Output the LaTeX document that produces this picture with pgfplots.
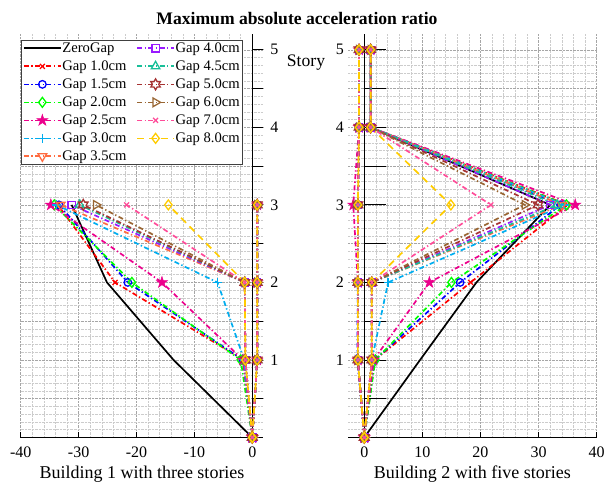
\documentclass[border=0pt]{standalone}
\usepackage{fontspec}
\setmainfont{Liberation Serif}
\usepackage{pgfplots}
\pgfplotsset{compat=1.18}
\usetikzlibrary{plotmarks}

\pgfdeclareplotmark{pentagram}{%
  \pgfpathmoveto{\pgfpointpolar{90}{\pgfplotmarksize}}%
  \pgfpathlineto{\pgfpointpolar{126}{0.382\pgfplotmarksize}}%
  \pgfpathlineto{\pgfpointpolar{162}{\pgfplotmarksize}}%
  \pgfpathlineto{\pgfpointpolar{198}{0.382\pgfplotmarksize}}%
  \pgfpathlineto{\pgfpointpolar{234}{\pgfplotmarksize}}%
  \pgfpathlineto{\pgfpointpolar{270}{0.382\pgfplotmarksize}}%
  \pgfpathlineto{\pgfpointpolar{306}{\pgfplotmarksize}}%
  \pgfpathlineto{\pgfpointpolar{342}{0.382\pgfplotmarksize}}%
  \pgfpathlineto{\pgfpointpolar{18}{\pgfplotmarksize}}%
  \pgfpathlineto{\pgfpointpolar{54}{0.382\pgfplotmarksize}}%
  \pgfpathclose
  \pgfusepathqfillstroke}
\pgfdeclareplotmark{hexagram}{%
  \pgfpathmoveto{\pgfpointpolar{90}{\pgfplotmarksize}}%
  \pgfpathlineto{\pgfpointpolar{120}{0.577\pgfplotmarksize}}%
  \pgfpathlineto{\pgfpointpolar{150}{\pgfplotmarksize}}%
  \pgfpathlineto{\pgfpointpolar{180}{0.577\pgfplotmarksize}}%
  \pgfpathlineto{\pgfpointpolar{210}{\pgfplotmarksize}}%
  \pgfpathlineto{\pgfpointpolar{240}{0.577\pgfplotmarksize}}%
  \pgfpathlineto{\pgfpointpolar{270}{\pgfplotmarksize}}%
  \pgfpathlineto{\pgfpointpolar{300}{0.577\pgfplotmarksize}}%
  \pgfpathlineto{\pgfpointpolar{330}{\pgfplotmarksize}}%
  \pgfpathlineto{\pgfpointpolar{0}{0.577\pgfplotmarksize}}%
  \pgfpathlineto{\pgfpointpolar{30}{\pgfplotmarksize}}%
  \pgfpathlineto{\pgfpointpolar{60}{0.577\pgfplotmarksize}}%
  \pgfpathclose
  \pgfusepathqstroke}

\definecolor{c35}{rgb}{1,0.42,0.25}
\definecolor{c40}{rgb}{0.6,0.1,1}
\definecolor{c45}{rgb}{0.1,0.75,0.6}
\definecolor{c50}{rgb}{0.65,0.2,0.2}
\definecolor{c60}{rgb}{0.6,0.4,0.2}
\definecolor{c70}{rgb}{1,0.3,0.6}
\definecolor{c80}{rgb}{1,0.8,0}

\pgfplotsset{
  dd/.style={line width=1.7pt, dash pattern=on 5pt off 2.5pt on 1.3pt off 2.5pt},
  mo/.style={mark options={solid, line width=1.3pt, #1}},
  s00/.style={black, solid, line width=1.7pt, no marks},
  s10/.style={red, dd, mark=x, mark size=3.5pt, mo={}},
  s15/.style={blue, dd, mark=o, mark size=3.8pt, mo={}},
  s20/.style={green, dd, mark=diamond, mark size=5pt, mo={}},
  s25/.style={magenta, dd, mark=pentagram, mark size=6pt, mo={fill=magenta, line width=0.5pt}},
  s30/.style={cyan, dd, mark=+, mark size=4.5pt, mo={}},
  s35/.style={c35, dd, mark=triangle, mark size=5pt, mo={rotate=180}},
  s40/.style={c40, dd, mark=square, mark size=3.6pt, mo={}},
  s45/.style={c45, dd, mark=triangle, mark size=5pt, mo={}},
  s50/.style={c50, dd, mark=hexagram, mark size=5.5pt, mo={}},
  s60/.style={c60, dd, mark=triangle, mark size=5pt, mo={rotate=-90}},
  s70/.style={c70, dd, mark=x, mark size=3.5pt, mo={}},
  s80/.style={c80, line width=1.7pt, dash pattern=on 7pt off 5pt, mark=diamond, mark size=5pt, mo={}},
  common/.style={
    scale only axis,
    height=403.2bp,
    ymin=0, ymax=5.2,
    unbounded coords=jump,
    axis x line=bottom,
    axis line style={-, black, line width=0.8pt},
    tick align=inside,
    major tick length=5bp,
    minor tick length=0pt,
    tick style={black, line width=0.8pt},
    ytick={0,0.5,1,1.5,2,2.5,3,3.5,4,4.5,5},
    yticklabels={,,1,,2,,3,,4,,5},
    minor x tick num=4,
    minor y tick num=4,
    grid=both,
    major grid style={densely dotted, gray!70, line width=0.5pt},
    minor grid style={densely dotted, gray!40, line width=0.5pt},
    ticklabel style={font=\fontsize{16bp}{18bp}\selectfont},
    /pgf/number format/assume math mode=true,
    xticklabel style={yshift=-6bp},
    xlabel style={font=\fontsize{18bp}{20bp}\selectfont, yshift=-1bp},
    legend image code/.code={\draw[mark repeat=2,mark phase=2] plot coordinates {(0cm,0cm) (0.65cm,0cm) (1.3cm,0cm)};},
  },
}

\begin{document}
\begin{tikzpicture}
\useasboundingbox (0,0) rectangle (607bp,486bp);

% ---------------- Building 1 ----------------
\begin{axis}[common,
  at={(20.7bp,48.5bp)}, anchor=south west,
  width=242.6bp,
  xmin=-40, xmax=1.9,
  xtick={-40,-30,-20,-10,0},
  axis y line=right,
  y axis line style={draw=none},
  ytick style={draw=none},
  yticklabel style={xshift=1bp},
  xlabel={Building 1 with three stories},
  legend columns=2,
  legend cell align=left,
  legend style={at={(0,0.987)}, anchor=north west,
    font=\fontsize{14.6bp}{16bp}\selectfont,
    draw=black!75, line width=0.8pt, fill=white,
    inner sep=2bp, row sep=5.2bp,
    /tikz/every even column/.append style={column sep=9bp},
    nodes={inner sep=0.8bp}},
]
\addlegendimage{s00}\addlegendentry{ZeroGap}
\addlegendimage{s40}\addlegendentry{Gap 4.0cm}
\addlegendimage{s10}\addlegendentry{Gap 1.0cm}
\addlegendimage{s45}\addlegendentry{Gap 4.5cm}
\addlegendimage{s15}\addlegendentry{Gap 1.5cm}
\addlegendimage{s50}\addlegendentry{Gap 5.0cm}
\addlegendimage{s20}\addlegendentry{Gap 2.0cm}
\addlegendimage{s60}\addlegendentry{Gap 6.0cm}
\addlegendimage{s25}\addlegendentry{Gap 2.5cm}
\addlegendimage{s70}\addlegendentry{Gap 7.0cm}
\addlegendimage{s30}\addlegendentry{Gap 3.0cm}
\addlegendimage{s80}\addlegendentry{Gap 8.0cm}
\addlegendimage{s35}\addlegendentry{Gap 3.5cm}

\draw[black, line width=0.8pt] (axis cs:0,0) -- (axis cs:0,5.2);
\pgfplotsinvokeforeach{0.5,1,1.5,2,2.5,3,3.5,4,4.5,5}{
  \draw[black, line width=0.8pt] (axis cs:0,#1) -- ++(5bp,0);
}

\addplot[s00, forget plot] coordinates {(0,0) (-13.6,1) (-25.1,2) (-31.2,3)};
\addplot[s10, forget plot] coordinates {(0,0) (-1.5,1) (-23.7,2) (-33.6,3) (nan,nan) (0,0) (0.85,1) (0.85,2) (0.85,3)};
\addplot[s15, forget plot] coordinates {(0,0) (-1.6,1) (-21.5,2) (-33.4,3) (nan,nan) (0,0) (0.85,1) (0.85,2) (0.85,3)};
\addplot[s20, forget plot] coordinates {(0,0) (-2.0,1) (-20.8,2) (-34.2,3) (nan,nan) (0,0) (0.85,1) (0.85,2) (0.85,3)};
\addplot[s25, forget plot] coordinates {(0,0) (-1.6,1) (-15.6,2) (-34.8,3) (nan,nan) (0,0) (0.85,1) (0.85,2) (0.85,3)};
\addplot[s30, forget plot] coordinates {(0,0) (-1.4,1) (-6.0,2) (-33.8,3) (nan,nan) (0,0) (0.85,1) (0.85,2) (0.85,3)};
\addplot[s35, forget plot] coordinates {(0,0) (-1.2,1) (-1.3,2) (-33.1,3) (nan,nan) (0,0) (0.85,1) (0.85,2) (0.85,3)};
\addplot[s40, forget plot] coordinates {(0,0) (-1.2,1) (-1.3,2) (-31.2,3) (nan,nan) (0,0) (0.85,1) (0.85,2) (0.85,3)};
\addplot[s45, forget plot] coordinates {(0,0) (-1.2,1) (-1.3,2) (-29.8,3) (nan,nan) (0,0) (0.85,1) (0.85,2) (0.85,3)};
\addplot[s50, forget plot] coordinates {(0,0) (-1.2,1) (-1.3,2) (-29.2,3) (nan,nan) (0,0) (0.85,1) (0.85,2) (0.85,3)};
\addplot[s60, forget plot] coordinates {(0,0) (-1.2,1) (-1.3,2) (-27.0,3) (nan,nan) (0,0) (0.85,1) (0.85,2) (0.85,3)};
\addplot[s70, forget plot] coordinates {(0,0) (-1.2,1) (-1.3,2) (-21.7,3) (nan,nan) (0,0) (0.85,1) (0.85,2) (0.85,3)};
\addplot[s80, forget plot] coordinates {(0,0) (-1.2,1) (-1.3,2) (-14.5,3) (nan,nan) (0,0) (0.85,1) (0.85,2) (0.85,3)};
\end{axis}

% ---------------- Building 2 ----------------
\begin{axis}[common,
  at={(348bp,48.5bp)}, anchor=south west,
  width=248.7bp,
  xmin=-2.8, xmax=40,
  xtick={0,10,20,30,40},
  axis y line=left,
  y axis line style={draw=none},
  ytick style={draw=none},
  yticklabel style={xshift=2bp},
  xlabel={Building 2 with five stories},
]
\draw[black, line width=0.8pt] (axis cs:0,0) -- (axis cs:0,5.2);
\pgfplotsinvokeforeach{0.5,1,1.5,2,2.5,3,3.5,4,4.5,5}{
  \draw[black, line width=0.8pt] (axis cs:0,#1) -- ++(5bp,0);
}

\addplot[s00] coordinates {(0,0) (9.6,1) (19.3,2) (32.0,3) (1.1,4) (1.1,5)};
\addplot[s10] coordinates {(0,0) (1.8,1) (18.3,2) (35.0,3) (1.1,4) (1.1,5) (nan,nan) (0,0) (-1.1,1) (-1.1,2) (-1.1,3) (-0.9,4) (-0.9,5)};
\addplot[s15] coordinates {(0,0) (1.8,1) (16.5,2) (33.8,3) (1.1,4) (1.1,5) (nan,nan) (0,0) (-1.2,1) (-1.1,2) (-1.1,3) (-0.9,4) (-0.9,5)};
\addplot[s20] coordinates {(0,0) (1.9,1) (15.0,2) (34.8,3) (1.1,4) (1.1,5) (nan,nan) (0,0) (-1.1,1) (-1.1,2) (-1.1,3) (-0.9,4) (-0.9,5)};
\addplot[s25] coordinates {(0,0) (1.6,1) (11.2,2) (36.3,3) (1.1,4) (1.1,5) (nan,nan) (0,0) (-1.1,1) (-1.1,2) (-1.9,3) (-0.9,4) (-0.9,5)};
\addplot[s30] coordinates {(0,0) (1.3,1) (4.1,2) (34.5,3) (1.1,4) (1.1,5) (nan,nan) (0,0) (-1.1,1) (-1.1,2) (-1.1,3) (-0.9,4) (-0.9,5)};
\addplot[s35] coordinates {(0,0) (1.3,1) (1.3,2) (34.0,3) (1.1,4) (1.1,5) (nan,nan) (0,0) (-1.1,1) (-1.1,2) (-1.1,3) (-0.9,4) (-0.9,5)};
\addplot[s40] coordinates {(0,0) (1.3,1) (1.3,2) (32.0,3) (1.1,4) (1.1,5) (nan,nan) (0,0) (-1.1,1) (-1.1,2) (-1.1,3) (-0.9,4) (-0.9,5)};
\addplot[s45] coordinates {(0,0) (1.3,1) (1.3,2) (33.2,3) (1.1,4) (1.1,5) (nan,nan) (0,0) (-1.1,1) (-1.1,2) (-1.1,3) (-0.9,4) (-0.9,5)};
\addplot[s50] coordinates {(0,0) (1.3,1) (1.3,2) (29.9,3) (1.1,4) (1.1,5) (nan,nan) (0,0) (-1.1,1) (-1.1,2) (-1.1,3) (-0.9,4) (-0.9,5)};
\addplot[s60] coordinates {(0,0) (1.3,1) (1.3,2) (27.6,3) (1.1,4) (1.1,5) (nan,nan) (0,0) (-1.1,1) (-1.1,2) (-1.1,3) (-0.9,4) (-0.9,5)};
\addplot[s70] coordinates {(0,0) (1.3,1) (1.3,2) (21.8,3) (1.1,4) (1.1,5) (nan,nan) (0,0) (-1.1,1) (-1.1,2) (-1.1,3) (-0.9,4) (-0.9,5)};
\addplot[s80] coordinates {(0,0) (1.3,1) (1.3,2) (14.9,3) (1.1,4) (1.1,5) (nan,nan) (0,0) (-1.1,1) (-1.1,2) (-1.1,3) (-0.9,4) (-0.9,5)};
\end{axis}

\node[anchor=base, font=\bfseries\fontsize{17.6bp}{20bp}\selectfont] at (297bp,461bp) {Maximum absolute acceleration ratio};
\node[anchor=base, font=\fontsize{17.6bp}{20bp}\selectfont] at (306bp,419.5bp) {Story};
\end{tikzpicture}
\end{document}
